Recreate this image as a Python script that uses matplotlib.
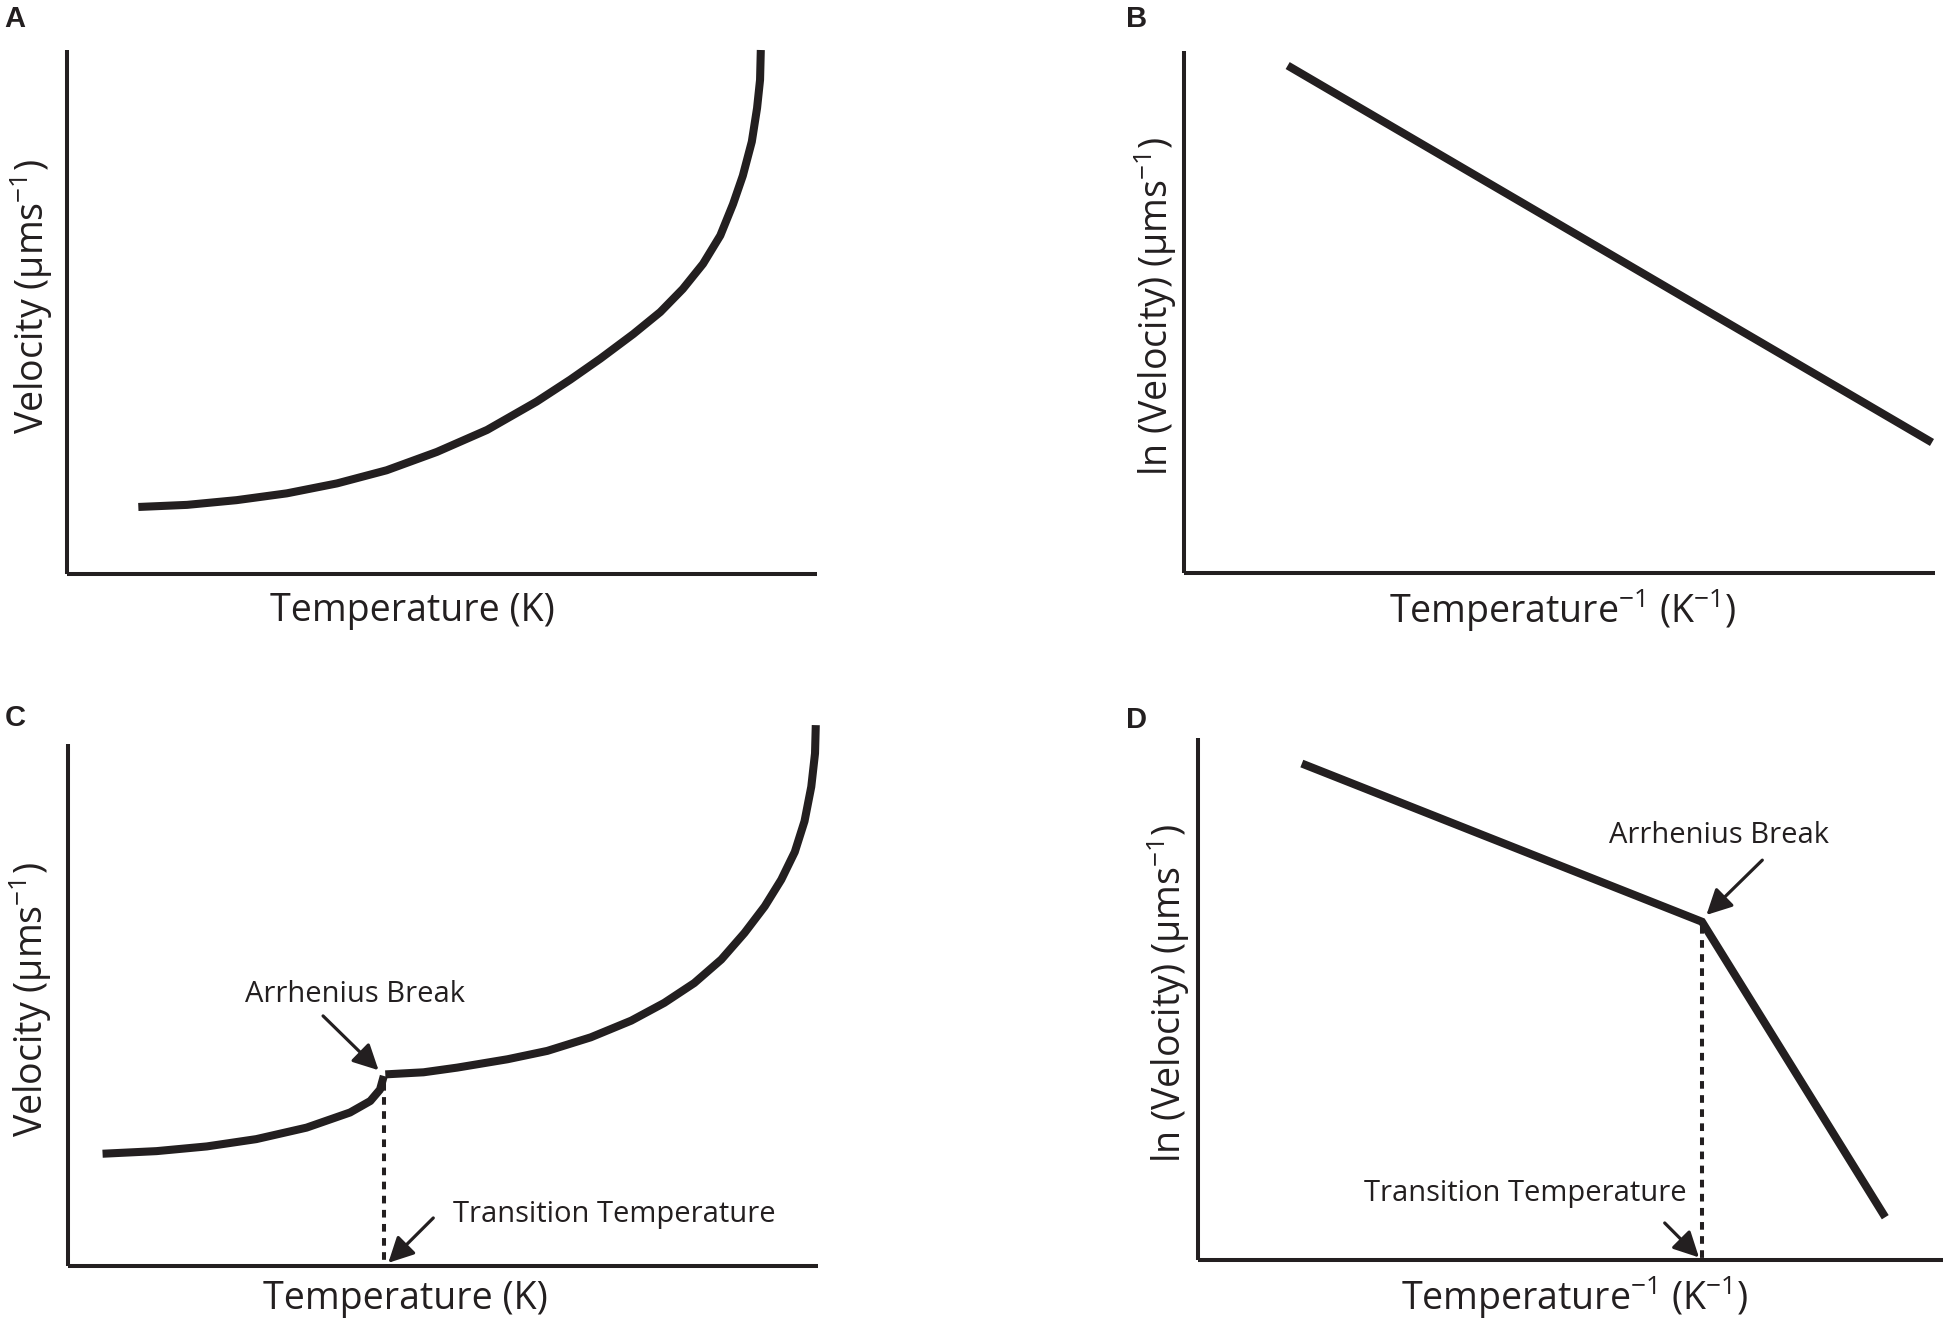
import matplotlib.pyplot as plt
import numpy as np

plt.rcParams['font.family'] = ['Open Sans', 'DejaVu Sans']
plt.rcParams['mathtext.fontset'] = 'custom'
plt.rcParams['mathtext.rm'] = 'Open Sans'
plt.rcParams['mathtext.it'] = 'Open Sans:italic'

INK = '#231f20'

# values, as fractions of each axis
# A - velocity against temperature
a_x = [0.095, 0.160, 0.226, 0.293, 0.360, 0.426, 0.493, 0.560, 0.626, 0.671, 0.711,
       0.755, 0.791, 0.821, 0.848, 0.871, 0.888, 0.901, 0.913, 0.920, 0.924, 0.925]
a_y = [0.128, 0.132, 0.141, 0.154, 0.173, 0.198, 0.233, 0.275, 0.329, 0.371, 0.411,
       0.458, 0.500, 0.544, 0.592, 0.646, 0.706, 0.760, 0.825, 0.889, 0.943, 1.0]

# B - ln(velocity) against 1/T
b_x = [0.138, 0.996]
b_y = [0.972, 0.250]

# C - velocity with an Arrhenius break
c_low_x = [0.046, 0.118, 0.185, 0.251, 0.318, 0.376, 0.403, 0.416, 0.421]
c_low_y = [0.215, 0.220, 0.229, 0.243, 0.265, 0.294, 0.316, 0.338, 0.364]
c_high_x = [0.423, 0.474, 0.519, 0.586, 0.639, 0.697, 0.751, 0.795, 0.835, 0.871,
            0.902, 0.929, 0.951, 0.969, 0.982, 0.991, 0.996, 0.997]
c_high_y = [0.367, 0.371, 0.380, 0.396, 0.412, 0.438, 0.470, 0.504, 0.542, 0.587,
            0.638, 0.689, 0.740, 0.793, 0.852, 0.918, 0.982, 1.036]
c_break = (0.421, 0.350)

# D - ln(velocity) with an Arrhenius break
d_x = [0.139, 0.676, 0.922]
d_y = [0.951, 0.648, 0.082]
d_break = (0.676, 0.640)

vel_label = r'Velocity (μms$^{-1}$)'
lnvel_label = r'ln (Velocity) (μms$^{-1}$)'
t_label = 'Temperature (K)'
tinv_label = r'Temperature$^{-1}$ (K$^{-1}$)'


def setup(ax):
    ax.spines['top'].set_visible(False)
    ax.spines['right'].set_visible(False)
    for s in ('left', 'bottom'):
        ax.spines[s].set_linewidth(2.9)
        ax.spines[s].set_color(INK)
        ax.spines[s].set_capstyle('butt')
    ax.set_xticks([])
    ax.set_yticks([])
    ax.set_xlim(0, 1)
    ax.set_ylim(0, 1)
    ax.patch.set_alpha(0)


def arrow(ax, head, tail):
    ax.annotate('', xy=head, xytext=tail,
                arrowprops=dict(arrowstyle='-|>,head_length=0.55,head_width=0.28',
                                lw=2.3, color=INK, mutation_scale=28,
                                shrinkA=0, shrinkB=0))


fig = plt.figure(figsize=(19.5, 13.23), dpi=100)

axA = fig.add_axes([0.0344, 0.5661, 0.3846, 0.3961])
axB = fig.add_axes([0.6072, 0.5669, 0.3851, 0.3946])
axC = fig.add_axes([0.0349, 0.0431, 0.3846, 0.3946])
axD = fig.add_axes([0.6145, 0.0476, 0.3821, 0.3946])
for ax in (axA, axB, axC, axD):
    setup(ax)

lw = 5.8
curve = dict(color=INK, lw=lw, solid_joinstyle='round', solid_capstyle='butt', clip_on=False)
dash = dict(color=INK, lw=2.9, ls=(0, (1.9, 1.6)))
axA.plot(a_x, a_y, **curve)
axB.plot(b_x, b_y, **curve)
axC.plot(c_low_x, c_low_y, **curve)
axC.plot(c_high_x, c_high_y, **curve)
axC.plot([c_break[0], c_break[0]], [c_break[1], 0], **dash)
axD.plot(d_x, d_y, color=INK, lw=lw, solid_joinstyle='miter', solid_capstyle='butt', clip_on=False)
axD.plot([d_break[0], d_break[0]], [d_break[1], 0], **dash)

# axis titles
lab = 27
axA.text(-0.048, 0.53, vel_label, rotation=90, ha='center', va='center', fontsize=lab, color=INK, transform=axA.transAxes)
axA.text(0.46, -0.071, t_label, ha='center', va='center', fontsize=lab, color=INK, transform=axA.transAxes)
axB.text(-0.038, 0.51, lnvel_label, rotation=90, ha='center', va='center', fontsize=lab, color=INK, transform=axB.transAxes)
axB.text(0.505, -0.071, tinv_label, ha='center', va='center', fontsize=lab, color=INK, transform=axB.transAxes)
axC.text(-0.05, 0.51, vel_label, rotation=90, ha='center', va='center', fontsize=lab, color=INK, transform=axC.transAxes)
axC.text(0.45, -0.064, t_label, ha='center', va='center', fontsize=lab, color=INK, transform=axC.transAxes)
axD.text(-0.04, 0.51, lnvel_label, rotation=90, ha='center', va='center', fontsize=lab, color=INK, transform=axD.transAxes)
axD.text(0.505, -0.072, tinv_label, ha='center', va='center', fontsize=lab, color=INK, transform=axD.transAxes)

# annotations
ann = 21
axC.text(0.383, 0.505, 'Arrhenius Break', ha='center', va='baseline', fontsize=ann, color=INK)
arrow(axC, (0.414, 0.375), (0.34, 0.479))
axC.text(0.513, 0.085, 'Transition Temperature', ha='left', va='baseline', fontsize=ann, color=INK)
arrow(axC, (0.427, 0.006), (0.487, 0.092))

axD.text(0.699, 0.799, 'Arrhenius Break', ha='center', va='baseline', fontsize=ann, color=INK)
arrow(axD, (0.682, 0.661), (0.757, 0.766))
axD.text(0.655, 0.113, 'Transition Temperature', ha='right', va='baseline', fontsize=ann, color=INK)
arrow(axD, (0.672, 0.005), (0.626, 0.071))

# panel letters
for x, y, s in [(0.0077, 0.986, 'A'), (0.583, 0.986, 'B'), (0.0077, 0.457, 'C'), (0.583, 0.456, 'D')]:
    fig.text(x, y, s, ha='center', va='center', fontsize=21, fontweight='bold',
             family='Liberation Sans', color=INK)

fig.savefig('out.png', dpi=100)
